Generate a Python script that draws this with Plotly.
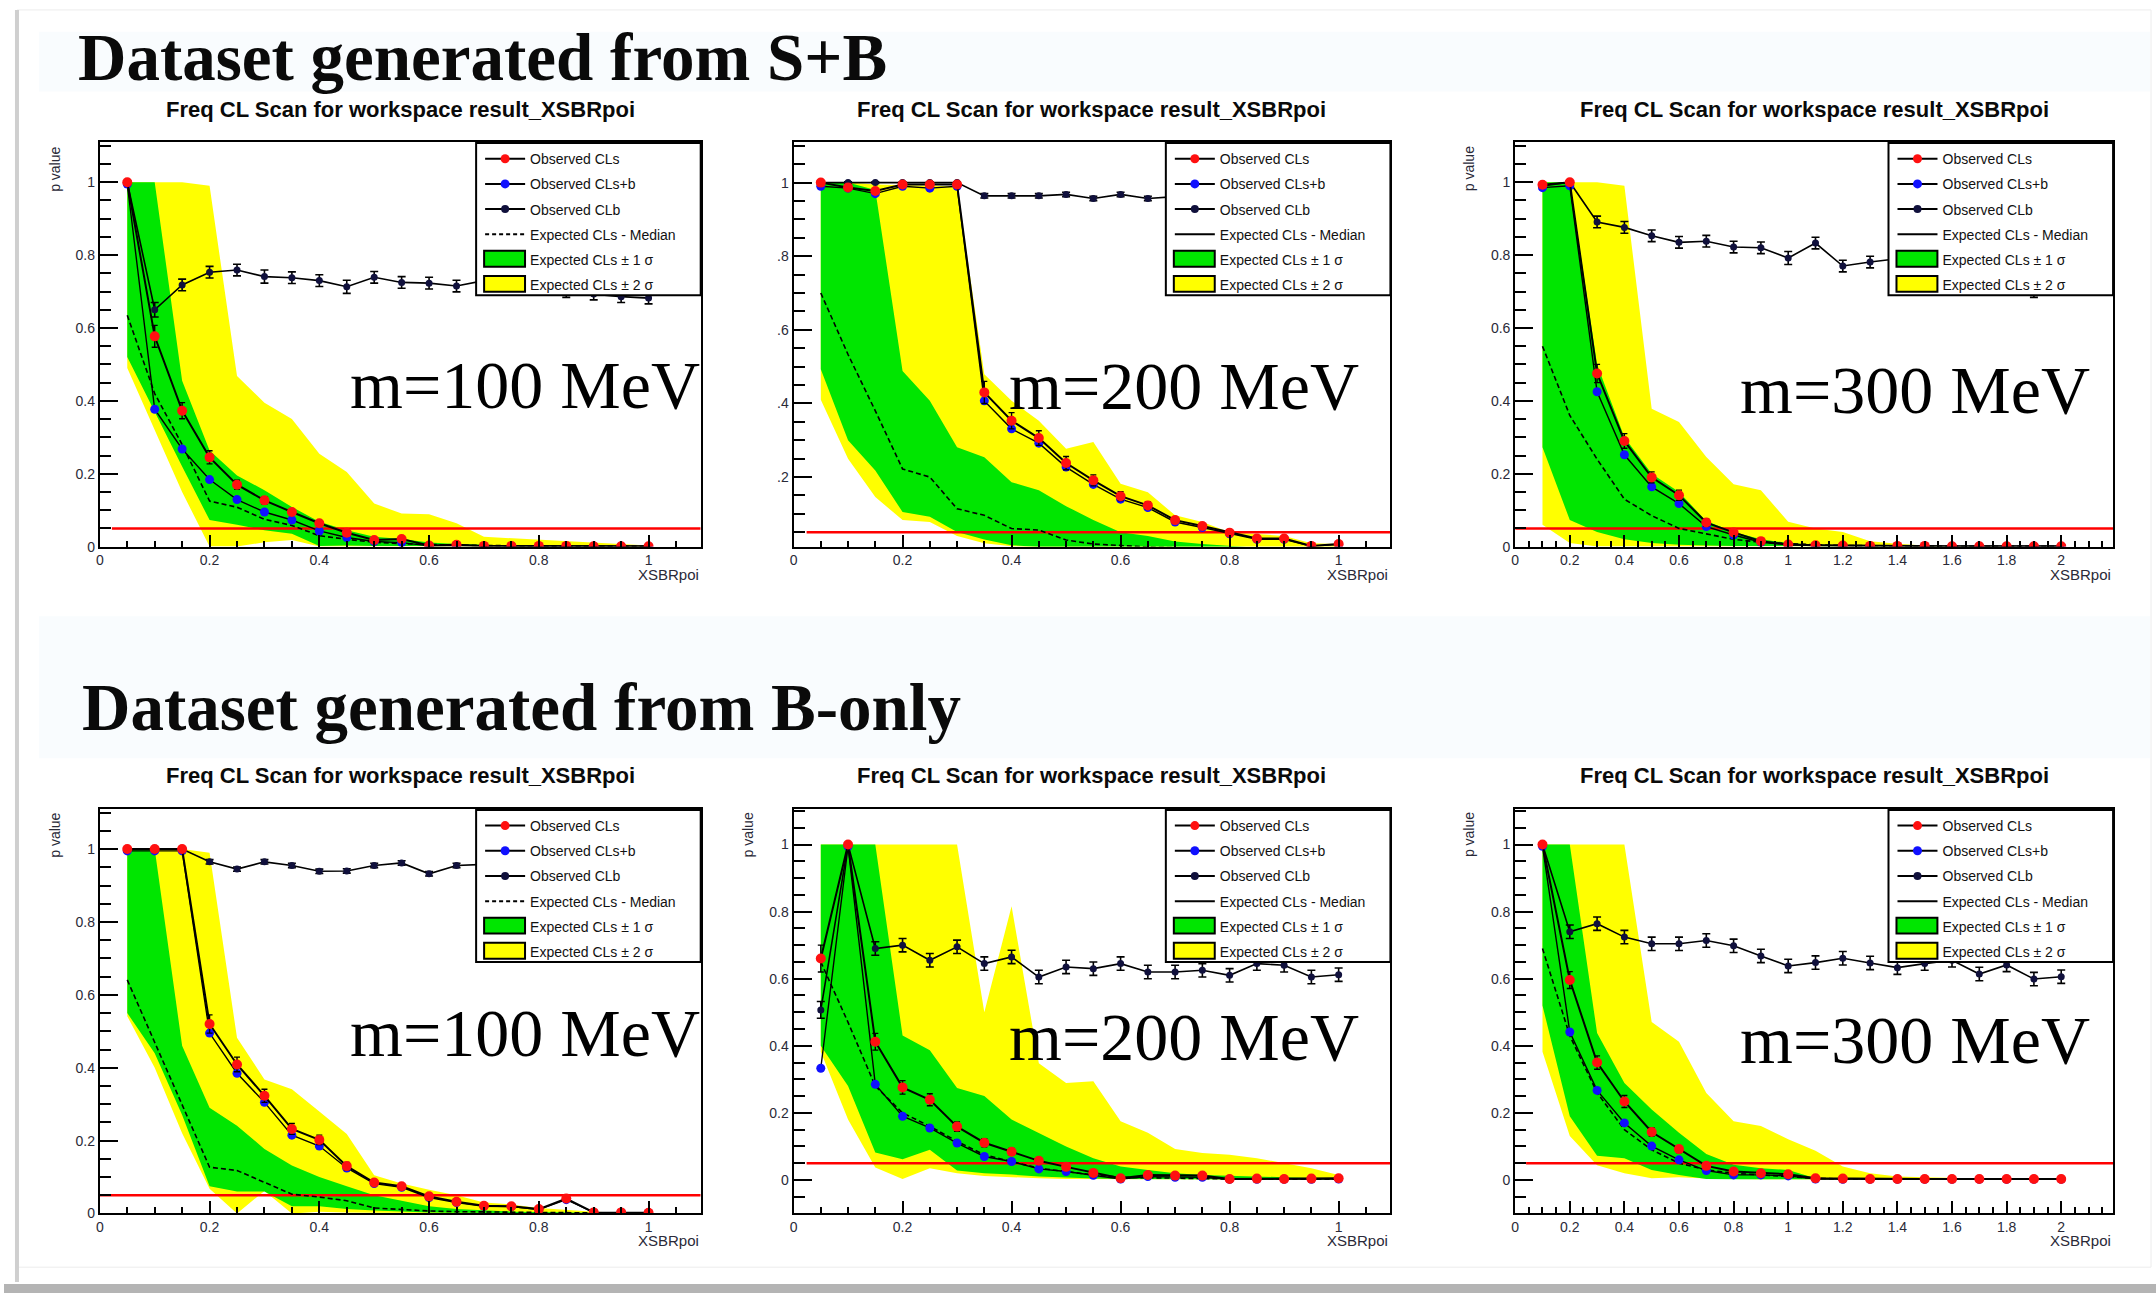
import plotly.graph_objects as go

W, H = 2156, 1301

# ---------------------------------------------------------------- data ----
xsbr_fine = [0.05, 0.10, 0.15, 0.20, 0.25, 0.30, 0.35, 0.40, 0.45, 0.50,
             0.55, 0.60, 0.65, 0.70, 0.75, 0.80, 0.85, 0.90, 0.95, 1.00]
xsbr_wide = [0.1, 0.2, 0.3, 0.4, 0.5, 0.6, 0.7, 0.8, 0.9, 1.0,
             1.1, 1.2, 1.3, 1.4, 1.5, 1.6, 1.7, 1.8, 1.9, 2.0]

cl_limit = 0.05

legend_names = ["Observed CLs", "Observed CLs+b", "Observed CLb",
                "Expected CLs - Median", "Expected CLs \u00b1 1 \u03c3",
                "Expected CLs \u00b1 2 \u03c3"]
plot_title = "Freq CL Scan for workspace result_XSBRpoi"
headings = ["Dataset generated from S+B", "Dataset generated from B-only"]
mass_labels = ["m=100 MeV", "m=200 MeV", "m=300 MeV"]

xtick_fine_vals = [0, 0.2, 0.4, 0.6, 0.8, 1.0]
xtick_fine_text = ["0", "0.2", "0.4", "0.6", "0.8", "1"]
xtick_wide_vals = [0, 0.2, 0.4, 0.6, 0.8, 1.0, 1.2, 1.4, 1.6, 1.8, 2.0]
xtick_wide_text = ["0", "0.2", "0.4", "0.6", "0.8", "1", "1.2", "1.4", "1.6", "1.8", "2"]
ytick_vals = [0, 0.2, 0.4, 0.6, 0.8, 1.0]
ytick_text = ["0", "0.2", "0.4", "0.6", "0.8", "1"]
ytick_short_vals = [0.2, 0.4, 0.6, 0.8, 1.0]
ytick_short_text = [".2", ".4", ".6", ".8", "1"]

# --- S+B, m = 100 MeV
sb100_cls = [1.000, 0.577, 0.373, 0.245, 0.170, 0.127, 0.095, 0.064, 0.038, 0.018,
             0.021, 0.003, 0.005, 0.002, 0.002, 0.002, 0.002, 0.001, 0.001, 0.001]
sb100_cls_err = [0.005, 0.030, 0.022, 0.018, 0.012, 0.010, 0.008, 0.006, 0.005, 0.003,
                 0.003, 0.001, 0.001, 0.001, 0.001, 0.001, 0.001, 0.001, 0.001, 0.001]
sb100_clsb = [0.995, 0.377, 0.268, 0.184, 0.129, 0.095, 0.073, 0.043, 0.025, 0.014,
              0.011, 0.002, 0.003, 0.001, 0.001, 0.001, 0.001, 0.001, 0.001, 0.001]
sb100_clb = [1.000, 0.650, 0.718, 0.753, 0.759, 0.741, 0.738, 0.730, 0.713, 0.739,
             0.725, 0.723, 0.715, 0.730, 0.722, 0.712, 0.700, 0.693, 0.686, 0.682]
sb100_clb_err = [0.003, 0.020, 0.016, 0.016, 0.016, 0.018, 0.016, 0.016, 0.018, 0.016,
                 0.016, 0.016, 0.016, 0.016, 0.016, 0.016, 0.016, 0.016, 0.016, 0.016]
sb100_med = [0.635, 0.420, 0.280, 0.125, 0.108, 0.075, 0.058, 0.030, 0.020, 0.012,
             0.008, 0.005, 0.004, 0.003, 0.002, 0.002, 0.001, 0.001, 0.001, 0.001]
sb100_g_lo = [0.520, 0.370, 0.220, 0.073, 0.060, 0.045, 0.035, 0.002, 0.003, 0.002,
              0.002, 0.001, 0.001, 0.001, 0.000, 0.000, 0.000, 0.000, 0.000, 0.000]
sb100_g_hi = [1.000, 1.000, 0.455, 0.264, 0.195, 0.155, 0.109, 0.068, 0.045, 0.027,
              0.021, 0.011, 0.007, 0.004, 0.003, 0.002, 0.002, 0.001, 0.001, 0.001]
sb100_y_lo = [0.490, 0.320, 0.150, 0.000, 0.000, 0.012, 0.018, 0.000, 0.000, 0.000,
              0.000, 0.000, 0.000, 0.000, 0.000, 0.000, 0.000, 0.000, 0.000, 0.000]
sb100_y_hi = [1.000, 1.000, 1.000, 0.990, 0.468, 0.395, 0.350, 0.255, 0.205, 0.118,
              0.091, 0.089, 0.064, 0.027, 0.023, 0.018, 0.014, 0.009, 0.005, 0.003]

# --- S+B, m = 200 MeV
sb200_cls = [1.000, 0.987, 0.977, 0.995, 0.995, 0.995, 0.430, 0.353, 0.306, 0.238,
             0.191, 0.148, 0.123, 0.083, 0.067, 0.049, 0.033, 0.033, 0.013, 0.018]
sb200_cls_err = [0.004, 0.004, 0.004, 0.003, 0.003, 0.003, 0.030, 0.022, 0.020, 0.018,
                 0.015, 0.012, 0.010, 0.008, 0.006, 0.005, 0.004, 0.004, 0.002, 0.002]
sb200_clsb = [0.990, 0.985, 0.970, 0.990, 0.985, 0.990, 0.407, 0.331, 0.292, 0.227,
              0.180, 0.140, 0.117, 0.078, 0.063, 0.046, 0.031, 0.031, 0.012, 0.017]
sb200_clb = [1.000, 1.000, 1.000, 1.000, 1.000, 1.000, 0.964, 0.964, 0.964, 0.968,
             0.957, 0.968, 0.957, 0.962, 0.965, 0.958, 0.963, 0.960, 0.958, 0.962]
sb200_clb_err = [0.002, 0.002, 0.002, 0.002, 0.002, 0.002, 0.006, 0.006, 0.006, 0.006,
                 0.006, 0.006, 0.006, 0.006, 0.006, 0.006, 0.006, 0.006, 0.006, 0.006]
sb200_med = [0.700, 0.533, 0.380, 0.222, 0.200, 0.114, 0.096, 0.060, 0.056, 0.029,
             0.018, 0.013, 0.010, 0.008, 0.006, 0.005, 0.004, 0.003, 0.002, 0.002]
sb200_g_lo = [0.493, 0.300, 0.218, 0.105, 0.092, 0.051, 0.030, 0.015, 0.010, 0.005,
              0.004, 0.003, 0.002, 0.002, 0.001, 0.001, 0.001, 0.000, 0.000, 0.000]
sb200_g_hi = [1.000, 1.000, 0.980, 0.488, 0.407, 0.281, 0.254, 0.186, 0.164, 0.121,
              0.083, 0.050, 0.040, 0.025, 0.018, 0.012, 0.008, 0.006, 0.004, 0.003]
sb200_y_lo = [0.410, 0.250, 0.146, 0.083, 0.078, 0.040, 0.020, 0.012, 0.008, 0.005,
              0.003, 0.002, 0.002, 0.001, 0.001, 0.001, 0.000, 0.000, 0.000, 0.000]
sb200_y_hi = [1.000, 1.000, 0.995, 0.993, 0.992, 0.990, 0.479, 0.407, 0.353, 0.277,
              0.295, 0.182, 0.159, 0.096, 0.078, 0.050, 0.045, 0.040, 0.020, 0.018]

# --- S+B, m = 300 MeV
sb300_cls = [0.993, 1.000, 0.475, 0.290, 0.190, 0.141, 0.066, 0.039, 0.015, 0.006,
             0.004, 0.003, 0.002, 0.002, 0.002, 0.001, 0.001, 0.001, 0.001, 0.001]
sb300_cls_err = [0.005, 0.004, 0.025, 0.020, 0.015, 0.014, 0.010, 0.007, 0.004, 0.002,
                 0.002, 0.001, 0.001, 0.001, 0.001, 0.001, 0.001, 0.001, 0.001, 0.001]
sb300_clsb = [0.985, 0.990, 0.425, 0.252, 0.164, 0.118, 0.055, 0.032, 0.012, 0.005,
              0.003, 0.002, 0.002, 0.001, 0.001, 0.001, 0.001, 0.001, 0.001, 0.001]
sb300_clb = [0.990, 1.000, 0.891, 0.876, 0.853, 0.835, 0.838, 0.822, 0.820, 0.792,
             0.833, 0.770, 0.781, 0.790, 0.775, 0.765, 0.750, 0.740, 0.700, 0.720]
sb300_clb_err = [0.004, 0.003, 0.016, 0.016, 0.016, 0.016, 0.016, 0.016, 0.016, 0.018,
                 0.016, 0.016, 0.016, 0.016, 0.016, 0.016, 0.016, 0.016, 0.016, 0.016]
sb300_med = [0.550, 0.360, 0.240, 0.130, 0.085, 0.050, 0.035, 0.020, 0.012, 0.008,
             0.005, 0.003, 0.002, 0.002, 0.001, 0.001, 0.001, 0.001, 0.001, 0.001]
sb300_g_lo = [0.273, 0.073, 0.040, 0.020, 0.010, 0.005, 0.003, 0.002, 0.001, 0.001,
              0.000, 0.000, 0.000, 0.000, 0.000, 0.000, 0.000, 0.000, 0.000, 0.000]
sb300_g_hi = [1.000, 1.000, 0.500, 0.300, 0.200, 0.150, 0.070, 0.040, 0.020, 0.010,
              0.005, 0.003, 0.002, 0.001, 0.001, 0.001, 0.001, 0.000, 0.000, 0.000]
sb300_y_lo = [0.060, 0.010, 0.000, 0.000, 0.000, 0.000, 0.000, 0.000, 0.000, 0.000,
              0.000, 0.000, 0.000, 0.000, 0.000, 0.000, 0.000, 0.000, 0.000, 0.000]
sb300_y_hi = [1.000, 1.000, 1.000, 0.990, 0.378, 0.342, 0.246, 0.171, 0.155, 0.068,
              0.050, 0.040, 0.015, 0.008, 0.003, 0.002, 0.002, 0.001, 0.001, 0.001]

# --- B-only, m = 100 MeV
b100_cls = [1.000, 1.000, 1.000, 0.520, 0.409, 0.323, 0.232, 0.202, 0.130, 0.085,
            0.075, 0.047, 0.032, 0.021, 0.020, 0.012, 0.041, 0.003, 0.003, 0.002]
b100_cls_err = [0.003, 0.003, 0.003, 0.025, 0.020, 0.018, 0.015, 0.013, 0.010, 0.007,
                0.006, 0.005, 0.004, 0.003, 0.003, 0.002, 0.004, 0.001, 0.001, 0.001]
b100_clsb = [0.995, 0.995, 0.995, 0.495, 0.385, 0.305, 0.215, 0.185, 0.125, 0.082,
             0.072, 0.044, 0.030, 0.020, 0.019, 0.011, 0.038, 0.003, 0.003, 0.002]
b100_clb = [1.000, 1.000, 1.000, 0.965, 0.945, 0.965, 0.955, 0.939, 0.940, 0.955,
            0.962, 0.932, 0.955, 0.958, 0.950, 0.960, 0.955, 0.950, 0.958, 0.955]
b100_clb_err = [0.002, 0.002, 0.002, 0.006, 0.006, 0.006, 0.006, 0.006, 0.006, 0.006,
                0.006, 0.006, 0.006, 0.006, 0.006, 0.006, 0.006, 0.006, 0.006, 0.006]
b100_med = [0.641, 0.468, 0.298, 0.127, 0.118, 0.085, 0.053, 0.045, 0.035, 0.015,
            0.010, 0.007, 0.005, 0.004, 0.003, 0.002, 0.002, 0.001, 0.001, 0.001]
b100_g_lo = [0.550, 0.440, 0.270, 0.075, 0.060, 0.060, 0.020, 0.020, 0.012, 0.008,
             0.005, 0.003, 0.002, 0.001, 0.001, 0.000, 0.000, 0.000, 0.000, 0.000]
b100_g_hi = [1.000, 1.000, 0.460, 0.290, 0.241, 0.177, 0.132, 0.100, 0.075, 0.050,
             0.035, 0.020, 0.012, 0.008, 0.005, 0.004, 0.003, 0.002, 0.001, 0.001]
b100_y_lo = [0.541, 0.400, 0.220, 0.068, 0.000, 0.062, 0.000, 0.005, 0.003, 0.002,
             0.001, 0.001, 0.000, 0.000, 0.000, 0.000, 0.000, 0.000, 0.000, 0.000]
b100_y_hi = [1.000, 1.000, 1.000, 0.990, 0.482, 0.368, 0.341, 0.280, 0.218, 0.105,
             0.082, 0.065, 0.050, 0.030, 0.025, 0.015, 0.010, 0.005, 0.003, 0.002]

# --- B-only, m = 200 MeV
b200_cls = [0.660, 1.000, 0.412, 0.276, 0.239, 0.159, 0.111, 0.084, 0.057, 0.039,
            0.021, 0.005, 0.015, 0.013, 0.013, 0.003, 0.004, 0.003, 0.004, 0.005]
b200_cls_err = [0.040, 0.004, 0.025, 0.020, 0.018, 0.014, 0.012, 0.010, 0.008, 0.006,
                0.004, 0.002, 0.003, 0.003, 0.003, 0.001, 0.001, 0.001, 0.001, 0.001]
b200_clsb = [0.333, 0.995, 0.285, 0.190, 0.155, 0.110, 0.070, 0.055, 0.033, 0.025,
             0.014, 0.003, 0.010, 0.008, 0.008, 0.002, 0.002, 0.002, 0.002, 0.003]
b200_clb = [0.507, 1.000, 0.690, 0.700, 0.655, 0.695, 0.645, 0.665, 0.605, 0.635,
            0.630, 0.645, 0.620, 0.620, 0.625, 0.610, 0.645, 0.640, 0.605, 0.612]
b200_clb_err = [0.025, 0.003, 0.020, 0.020, 0.020, 0.020, 0.020, 0.020, 0.020, 0.020,
                0.020, 0.020, 0.020, 0.020, 0.020, 0.020, 0.020, 0.020, 0.020, 0.020]
b200_med = [0.650, 0.470, 0.280, 0.200, 0.160, 0.115, 0.075, 0.055, 0.035, 0.025,
            0.015, 0.008, 0.006, 0.005, 0.004, 0.003, 0.003, 0.002, 0.002, 0.002]
b200_g_lo = [0.400, 0.280, 0.082, 0.062, 0.090, 0.028, 0.020, 0.016, 0.010, 0.006,
             0.004, 0.003, 0.002, 0.002, 0.001, 0.001, 0.001, 0.001, 0.001, 0.001]
b200_g_hi = [1.000, 1.000, 1.000, 0.431, 0.387, 0.274, 0.250, 0.180, 0.140, 0.100,
             0.065, 0.040, 0.030, 0.020, 0.015, 0.012, 0.010, 0.008, 0.006, 0.005]
b200_y_lo = [0.382, 0.180, 0.037, 0.003, 0.035, 0.020, 0.012, 0.008, 0.005, 0.003,
             0.002, 0.002, 0.001, 0.001, 0.001, 0.001, 0.001, 0.001, 0.001, 0.001]
b200_y_hi = [1.000, 1.000, 1.000, 1.000, 1.000, 1.000, 0.500, 0.816, 0.348, 0.289,
             0.294, 0.175, 0.141, 0.092, 0.080, 0.075, 0.065, 0.050, 0.035, 0.015]

# --- B-only, m = 300 MeV
b300_cls = [1.000, 0.596, 0.350, 0.234, 0.143, 0.092, 0.042, 0.025, 0.020, 0.017,
            0.005, 0.004, 0.003, 0.003, 0.003, 0.003, 0.003, 0.003, 0.003, 0.003]
b300_cls_err = [0.004, 0.025, 0.020, 0.018, 0.012, 0.010, 0.006, 0.004, 0.003, 0.003,
                0.001, 0.001, 0.001, 0.001, 0.001, 0.001, 0.001, 0.001, 0.001, 0.001]
b300_clsb = [0.995, 0.441, 0.267, 0.170, 0.101, 0.060, 0.028, 0.015, 0.015, 0.012,
             0.003, 0.002, 0.002, 0.002, 0.002, 0.002, 0.002, 0.002, 0.002, 0.002]
b300_clb = [1.000, 0.740, 0.764, 0.724, 0.704, 0.704, 0.714, 0.698, 0.668, 0.638,
            0.648, 0.661, 0.647, 0.633, 0.645, 0.655, 0.614, 0.641, 0.599, 0.606]
b300_clb_err = [0.003, 0.020, 0.020, 0.020, 0.020, 0.020, 0.020, 0.020, 0.020, 0.020,
                0.020, 0.020, 0.020, 0.020, 0.020, 0.020, 0.020, 0.020, 0.020, 0.020]
b300_med = [0.690, 0.430, 0.260, 0.150, 0.090, 0.050, 0.030, 0.020, 0.015, 0.010,
            0.005, 0.003, 0.002, 0.002, 0.002, 0.002, 0.002, 0.002, 0.002, 0.002]
b300_g_lo = [0.520, 0.190, 0.072, 0.065, 0.030, 0.015, 0.003, 0.002, 0.002, 0.001,
             0.000, 0.000, 0.000, 0.000, 0.000, 0.000, 0.000, 0.000, 0.000, 0.000]
b300_g_hi = [1.000, 1.000, 0.438, 0.289, 0.210, 0.141, 0.077, 0.045, 0.035, 0.030,
             0.005, 0.004, 0.003, 0.002, 0.002, 0.002, 0.002, 0.002, 0.002, 0.002]
b300_y_lo = [0.382, 0.131, 0.044, 0.020, 0.005, 0.008, 0.004, 0.003, 0.002, 0.001,
             0.000, 0.000, 0.000, 0.000, 0.000, 0.000, 0.000, 0.000, 0.000, 0.000]
b300_y_hi = [1.000, 1.000, 1.000, 1.000, 0.471, 0.412, 0.259, 0.175, 0.161, 0.121,
             0.087, 0.040, 0.020, 0.010, 0.008, 0.005, 0.004, 0.003, 0.003, 0.003]

# ------------------------------------------------------------ styling ----
SANS = "Liberation Sans, Arial, Helvetica, sans-serif"
SERIF = "Liberation Serif, Times New Roman, serif"
YELLOW = "#ffff00"
GREEN = "#00e600"
RED_LINE = "#ff0000"
RED_MK = "#ff1010"
BLUE_MK = "#1010ff"
NAVY_MK = "#10103c"

COLS = [(96, 698), (791, 1389), (1514, 2113)]     # plot-frame pixel x extents
ROWS = [(143, 550), (814, 1221)]                  # plot-frame pixel y extents


def px(x):
    return x / W


def py(y):
    return 1 - y / H


panels = [
    dict(x=xsbr_fine, cls=sb100_cls, cls_err=sb100_cls_err, clsb=sb100_clsb, clb=sb100_clb,
         clb_err=sb100_clb_err, med=sb100_med, g_lo=sb100_g_lo, g_hi=sb100_g_hi,
         y_lo=sb100_y_lo, y_hi=sb100_y_hi, row=0, col=0, xmax=1.095, yr=[0, 1.11],
         thr_x0=0.022, short_y=False, pval=True, med_leg_dash=True, mlab_y=387),
    dict(x=xsbr_fine, cls=sb200_cls, cls_err=sb200_cls_err, clsb=sb200_clsb, clb=sb200_clb,
         clb_err=sb200_clb_err, med=sb200_med, g_lo=sb200_g_lo, g_hi=sb200_g_hi,
         y_lo=sb200_y_lo, y_hi=sb200_y_hi, row=0, col=1, xmax=1.095, yr=[0.011, 1.11],
         thr_x0=0.024, short_y=True, pval=False, med_leg_dash=False, mlab_y=388),
    dict(x=xsbr_wide, cls=sb300_cls, cls_err=sb300_cls_err, clsb=sb300_clsb, clb=sb300_clb,
         clb_err=sb300_clb_err, med=sb300_med, g_lo=sb300_g_lo, g_hi=sb300_g_hi,
         y_lo=sb300_y_lo, y_hi=sb300_y_hi, row=0, col=2, xmax=2.19, yr=[0, 1.11],
         thr_x0=0.0, short_y=False, pval=True, med_leg_dash=False, mlab_y=392),
    dict(x=xsbr_fine, cls=b100_cls, cls_err=b100_cls_err, clsb=b100_clsb, clb=b100_clb,
         clb_err=b100_clb_err, med=b100_med, g_lo=b100_g_lo, g_hi=b100_g_hi,
         y_lo=b100_y_lo, y_hi=b100_y_hi, row=1, col=0, xmax=1.095, yr=[0, 1.11],
         thr_x0=0.0, short_y=False, pval=True, med_leg_dash=True, mlab_y=1039),
    dict(x=xsbr_fine, cls=b200_cls, cls_err=b200_cls_err, clsb=b200_clsb, clb=b200_clb,
         clb_err=b200_clb_err, med=b200_med, g_lo=b200_g_lo, g_hi=b200_g_hi,
         y_lo=b200_y_lo, y_hi=b200_y_hi, row=1, col=1, xmax=1.095, yr=[-0.1, 1.106],
         thr_x0=0.024, short_y=False, pval=True, med_leg_dash=False, mlab_y=1043),
    dict(x=xsbr_wide, cls=b300_cls, cls_err=b300_cls_err, clsb=b300_clsb, clb=b300_clb,
         clb_err=b300_clb_err, med=b300_med, g_lo=b300_g_lo, g_hi=b300_g_hi,
         y_lo=b300_y_lo, y_hi=b300_y_hi, row=1, col=2, xmax=2.19, yr=[-0.1, 1.106],
         thr_x0=0.04, short_y=False, pval=True, med_leg_dash=False, mlab_y=1046),
]

fig = go.Figure()
layout = dict(width=W, height=H, margin=dict(l=0, r=0, t=0, b=0, pad=0),
              paper_bgcolor="white", plot_bgcolor="white", showlegend=True,
              hovermode=False)
shapes = []
annotations = []

# page decoration (slide frame, faint heading strips, bottom shadow)
shapes.append(dict(type="rect", xref="paper", yref="paper", layer="below",
                   x0=px(35), x1=px(2150), y0=py(92), y1=py(32),
                   fillcolor="#f9fcfe", line=dict(width=0)))
shapes.append(dict(type="rect", xref="paper", yref="paper", layer="below",
                   x0=px(35), x1=px(2150), y0=py(763), y1=py(620),
                   fillcolor="#f9fcfe", line=dict(width=0)))
shapes.append(dict(type="rect", xref="paper", yref="paper", layer="below",
                   x0=px(13), x1=px(2151), y0=py(1275), y1=py(10),
                   fillcolor="rgba(0,0,0,0)", line=dict(color="#ececec", width=1)))
shapes.append(dict(type="line", xref="paper", yref="paper", layer="below",
                   x0=px(13), x1=px(13), y0=py(1290), y1=py(10),
                   line=dict(color="#cfcfcf", width=4)))
shapes.append(dict(type="rect", xref="paper", yref="paper", layer="below",
                   x0=0, x1=1, y0=0, y1=py(1292),
                   fillcolor="#b4b4b4", line=dict(width=0)))

for r, txt in enumerate(headings):
    annotations.append(dict(text="<b>" + txt + "</b>", xref="paper", yref="paper",
                            showarrow=False, x=px([72, 76][r]), y=py([57, 711][r]),
                            xanchor="left", yanchor="middle",
                            font=dict(family=SERIF, size=67, color="#0a0a0a")))

for i, p in enumerate(panels):
    n = i + 1
    sfx = "" if n == 1 else str(n)
    xa, ya, lg = "x" + sfx, "y" + sfx, "legend" + sfx
    c0, c1 = COLS[p["col"]]
    r0, r1 = ROWS[p["row"]]
    xs = p["x"]

    tickfont = dict(family=SANS, size=14, color="#2a2a38")
    if p["xmax"] > 1.5:
        xtv, xtt = xtick_wide_vals, xtick_wide_text
    else:
        xtv, xtt = xtick_fine_vals, xtick_fine_text
    if p["short_y"]:
        ytv, ytt = ytick_short_vals, ytick_short_text
    else:
        ytv, ytt = ytick_vals, ytick_text

    layout["xaxis" + sfx] = dict(
        domain=[px(c0), px(c1)], range=[0, p["xmax"]], anchor=ya,
        showgrid=False, zeroline=False, showline=True, linecolor="black", linewidth=2,
        mirror=True, ticks="inside", ticklen=12, tickwidth=2, tickcolor="black",
        tickmode="array", tickvals=xtv, ticktext=xtt, tickfont=tickfont,
        minor=dict(ticks="inside", dtick=0.05, tick0=0, ticklen=6, tickwidth=2,
                   tickcolor="black", showgrid=False),
        fixedrange=True)
    layout["yaxis" + sfx] = dict(
        domain=[py(r1), py(r0)], range=p["yr"], anchor=xa,
        showgrid=False, zeroline=False, showline=True, linecolor="black", linewidth=2,
        mirror=True, ticks="inside", ticklen=18, tickwidth=2, tickcolor="black",
        tickmode="array", tickvals=ytv, ticktext=ytt, tickfont=tickfont,
        minor=dict(ticks="inside", dtick=0.05, tick0=0, ticklen=11, tickwidth=2,
                   tickcolor="black", showgrid=False),
        fixedrange=True)

    common = dict(xaxis=xa, yaxis=ya, legend=lg, hoverinfo="skip")

    # expected bands
    fig.add_trace(go.Scatter(x=xs + xs[::-1], y=p["y_hi"] + p["y_lo"][::-1],
                             fill="toself", fillcolor=YELLOW, mode="lines",
                             line=dict(width=0, color=YELLOW), showlegend=False, **common))
    fig.add_trace(go.Scatter(x=xs + xs[::-1], y=p["g_hi"] + p["g_lo"][::-1],
                             fill="toself", fillcolor=GREEN, mode="lines",
                             line=dict(width=0, color=GREEN), showlegend=False, **common))
    # 95% CL threshold
    fig.add_trace(go.Scatter(x=[p["thr_x0"], p["xmax"]], y=[cl_limit, cl_limit],
                             mode="lines", line=dict(color=RED_LINE, width=2.5),
                             showlegend=False, **common))
    # expected median
    fig.add_trace(go.Scatter(x=xs, y=p["med"], mode="lines",
                             line=dict(color="black", width=1.6, dash="5px,3px"),
                             showlegend=False, **common))
    # observed CLb
    fig.add_trace(go.Scatter(x=xs, y=p["clb"], mode="lines+markers",
                             line=dict(color="black", width=1.6),
                             marker=dict(color=NAVY_MK, size=7, symbol="circle"),
                             error_y=dict(type="data", array=p["clb_err"], color="black",
                                          thickness=1.6, width=4),
                             showlegend=False, **common))
    # observed CLs+b
    fig.add_trace(go.Scatter(x=xs, y=p["clsb"], mode="lines+markers",
                             line=dict(color="black", width=1.4),
                             marker=dict(color=BLUE_MK, size=9, symbol="circle"),
                             showlegend=False, **common))
    # observed CLs
    fig.add_trace(go.Scatter(x=xs, y=p["cls"], mode="lines+markers",
                             line=dict(color="black", width=2),
                             marker=dict(color=RED_MK, size=10, symbol="circle"),
                             error_y=dict(type="data", array=p["cls_err"], color="black",
                                          thickness=1.4, width=3),
                             showlegend=False, **common))

    # legend entries (symbols only, no data)
    leg_specs = [
        dict(mode="lines+markers", line=dict(color="black", width=2),
             marker=dict(color=RED_MK, size=9)),
        dict(mode="lines+markers", line=dict(color="black", width=2),
             marker=dict(color=BLUE_MK, size=9)),
        dict(mode="lines+markers", line=dict(color="black", width=2),
             marker=dict(color=NAVY_MK, size=8)),
        dict(mode="lines", line=dict(color="black", width=2,
                                     dash="4px,3px" if p["med_leg_dash"] else "solid")),
        dict(mode="lines", line=dict(color="rgba(0,0,0,0)", width=0)),
        dict(mode="lines", line=dict(color="rgba(0,0,0,0)", width=0)),
    ]
    for k, (name, spec) in enumerate(zip(legend_names, leg_specs)):
        fig.add_trace(go.Scatter(x=[None], y=[None], name=name, showlegend=True,
                                 legendgroup=f"p{n}_{k}", **spec, **common))

    # legend box
    L, R = c1 - 225, c1
    T, B = r0 + 1, r0 + 154
    shapes.append(dict(type="rect", xref="paper", yref="paper", layer="above",
                       x0=px(L), x1=px(R), y0=py(B), y1=py(T),
                       fillcolor="white", line=dict(color="black", width=2)))
    for k, col in ((4, GREEN), (5, YELLOW)):
        yc = T + 15.6 + k * 25.2
        shapes.append(dict(type="rect", xref="paper", yref="paper", layer="above",
                           x0=px(L + 8), x1=px(L + 49), y0=py(yc + 8), y1=py(yc - 8),
                           fillcolor=col, line=dict(color="black", width=2)))
    layout[lg] = dict(x=px(L + 4), y=py(T), xanchor="left", yanchor="top",
                      bgcolor="rgba(0,0,0,0)", borderwidth=0, itemwidth=40,
                      tracegroupgap=4, traceorder="grouped",
                      font=dict(family=SANS, size=14, color="#111111"))

    # texts
    annotations.append(dict(text="<b>" + plot_title + "</b>", xref="paper", yref="paper",
                            showarrow=False,
                            x=px((c0 + c1) / 2), y=py([110, 780][p["row"]]),
                            xanchor="center", yanchor="middle",
                            font=dict(family=SANS, size=22, color="#0a0a0a")))
    annotations.append(dict(text=mass_labels[p["col"]], xref="paper", yref="paper",
                            showarrow=False, x=px([522, 1182, 1915][p["col"]]),
                            y=py(p["mlab_y"]), xanchor="center", yanchor="middle",
                            font=dict(family=SERIF, size=68, color="black")))
    annotations.append(dict(text="XSBRpoi", xref="paper", yref="paper", showarrow=False,
                            x=px(c1), y=py([578, 1248][p["row"]]), xanchor="right",
                            yanchor="middle",
                            font=dict(family=SANS, size=15, color="#2a2a38")))
    if p["pval"]:
        annotations.append(dict(text="p value", xref="paper", yref="paper",
                                showarrow=False, textangle=-90,
                                x=px([51, 745, 1468][p["col"]]),
                                y=py([170, 840][p["row"]]), xanchor="center",
                                yanchor="middle",
                                font=dict(family=SANS, size=14, color="#2a2a38")))

layout["shapes"] = shapes
layout["annotations"] = annotations
fig.update_layout(layout)
fig.write_html("out.html", config={"displayModeBar": False},
               post_script="document.body.style.margin='0';"
                           "document.body.style.overflow='hidden';")
